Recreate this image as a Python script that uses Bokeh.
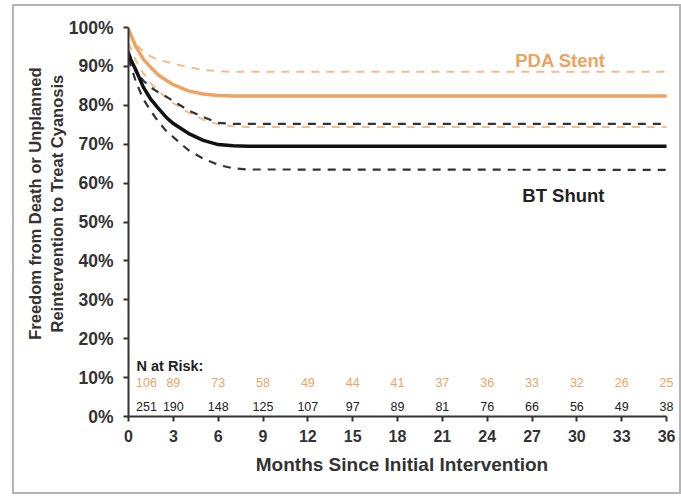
from bokeh.plotting import figure
from bokeh.models import (Range1d, NumeralTickFormatter, FixedTicker, ColumnDataSource,
                          LabelSet, Label, InlineStyleSheet)
from bokeh.core.properties import value
from bokeh.embed import file_html
from bokeh.resources import INLINE

# ---- data ----
months = [0, 0.5, 1, 1.5, 2, 2.5, 3, 4, 5, 6, 7, 8, 36]

pda_est   = [0.995, 0.950, 0.918, 0.897, 0.878, 0.865, 0.853, 0.837, 0.829, 0.825, 0.824, 0.824, 0.824]
pda_upper = [0.985, 0.958, 0.938, 0.925, 0.917, 0.912, 0.907, 0.898, 0.891, 0.888, 0.886, 0.886, 0.886]
pda_lower = [0.960, 0.915, 0.882, 0.856, 0.836, 0.820, 0.805, 0.782, 0.763, 0.751, 0.746, 0.744, 0.744]

bt_est    = [0.930, 0.890, 0.846, 0.815, 0.792, 0.770, 0.753, 0.728, 0.710, 0.699, 0.696, 0.695, 0.695]
bt_upper  = [0.940, 0.885, 0.863, 0.846, 0.833, 0.823, 0.811, 0.787, 0.770, 0.755, 0.752, 0.752, 0.752]
bt_lower  = [0.920, 0.860, 0.815, 0.785, 0.758, 0.735, 0.718, 0.685, 0.663, 0.647, 0.638, 0.635, 0.634]

risk_months = [0, 3, 6, 9, 12, 15, 18, 21, 24, 27, 30, 33, 36]
pda_risk = ["106", "89", "73", "58", "49", "44", "41", "37", "36", "33", "32", "26", "25"]
bt_risk  = ["251", "190", "148", "125", "107", "97", "89", "81", "76", "66", "56", "49", "38"]

x_ticks = [0, 3, 6, 9, 12, 15, 18, 21, 24, 27, 30, 33, 36]
y_ticks = [0, 0.1, 0.2, 0.3, 0.4, 0.5, 0.6, 0.7, 0.8, 0.9, 1.0]

y_title = ["Freedom from Death or Unplanned", "Reintervention to Treat Cyanosis"]
x_title = "Months Since Initial Intervention"

ORANGE = "#EBA462"
ORANGE_D = "#F1BD8E"
DARK = "#111111"
TXT = "#333333"
FONT = "Liberation Sans"

p = figure(width=681, height=496, output_backend="svg", toolbar_location=None,
           x_range=Range1d(0, 36.6), y_range=Range1d(0, 1.0),
           min_border_left=128, min_border_right=6, min_border_top=27, min_border_bottom=80)
p.background_fill_color = "white"
p.border_fill_color = "white"
p.outline_line_color = None
p.grid.visible = False

# outer grey frame around the whole picture
p.stylesheets = [InlineStyleSheet(css="""
:host { position: relative; }
:host::after { content: ""; position: absolute; left: 12px; top: 4px; width: 669px; height: 490px;
  border: 2.5px solid #b5b5b5; box-sizing: border-box; pointer-events: none; }
""")]

# curves
p.line(months, pda_upper, line_color=ORANGE_D, line_width=2, line_dash="8 7")
p.line(months, pda_lower, line_color=ORANGE_D, line_width=2, line_dash="8 7")
p.line(months, bt_upper, line_color="#333333", line_width=2.2, line_dash="8 7")
p.line(months, bt_lower, line_color="#333333", line_width=2.2, line_dash="8 7")
p.line(months, pda_est, line_color=ORANGE, line_width=3.5)
p.line(months, bt_est, line_color=DARK, line_width=3.5)

# group labels
p.text(x=[28.9], y=[0.915], text=["PDA Stent"], text_color=ORANGE, text_font=value(FONT),
       text_font_style="bold", text_font_size="18.5px", text_align="center", text_baseline="middle")
p.text(x=[29.1], y=[0.567], text=["BT Shunt"], text_color="#222222", text_font=value(FONT),
       text_font_style="bold", text_font_size="18.5px", text_align="center", text_baseline="middle")

# numbers at risk
p.add_layout(Label(x=0, y=0.13, text="N at Risk:", x_offset=8, text_color="#222222", text_font=FONT,
                   text_font_style="bold", text_font_size="14.5px", text_align="left",
                   text_baseline="middle"))
offs = [18 if m == 0 else 0 for m in risk_months]
src_p = ColumnDataSource(dict(x=risk_months, y=[0.087] * len(risk_months), t=pda_risk, o=offs))
src_b = ColumnDataSource(dict(x=risk_months, y=[0.026] * len(risk_months), t=bt_risk, o=offs))
p.add_layout(LabelSet(x="x", y="y", text="t", x_offset="o", source=src_p, text_color=ORANGE,
                      text_font=value(FONT), text_font_size="12.5px", text_align="center",
                      text_baseline="middle"))
p.add_layout(LabelSet(x="x", y="y", text="t", x_offset="o", source=src_b, text_color="#222222",
                      text_font=value(FONT), text_font_size="12.5px", text_align="center",
                      text_baseline="middle"))

# axes
for ax in (p.xaxis[0], p.yaxis[0]):
    ax.axis_line_color = "#333333"
    ax.axis_line_width = 2
    ax.major_tick_line_color = "#333333"
    ax.major_tick_line_width = 2
    ax.major_tick_out = 5
    ax.major_tick_in = 0
    ax.minor_tick_line_color = None
    ax.major_label_text_font = FONT
    ax.major_label_text_font_style = "bold"
    ax.major_label_text_color = TXT
    ax.axis_label_text_font = FONT
    ax.axis_label_text_font_style = "bold"
    ax.axis_label_text_color = TXT

p.xaxis.bounds = (0, 36)
p.xaxis.ticker = FixedTicker(ticks=x_ticks)
p.yaxis.ticker = FixedTicker(ticks=y_ticks)
p.yaxis.formatter = NumeralTickFormatter(format="0%")
p.xaxis.major_label_text_font_size = "16px"
p.yaxis.major_label_text_font_size = "17.5px"
p.xaxis.major_label_standoff = 8
p.yaxis.major_label_standoff = 10
p.xaxis.axis_label = x_title
p.xaxis.axis_label_text_font_size = "19px"
p.xaxis.axis_label_standoff = 9
# leading no-break spaces shift the centred title upward, as in the reference
pad = "\u00a0" * 8
p.yaxis.axis_label = "\n".join(pad + s for s in y_title)
p.yaxis.axis_label_text_font_size = "16.5px"
p.yaxis.axis_label_standoff = 0

open("out.html", "w").write(file_html(p, INLINE))
